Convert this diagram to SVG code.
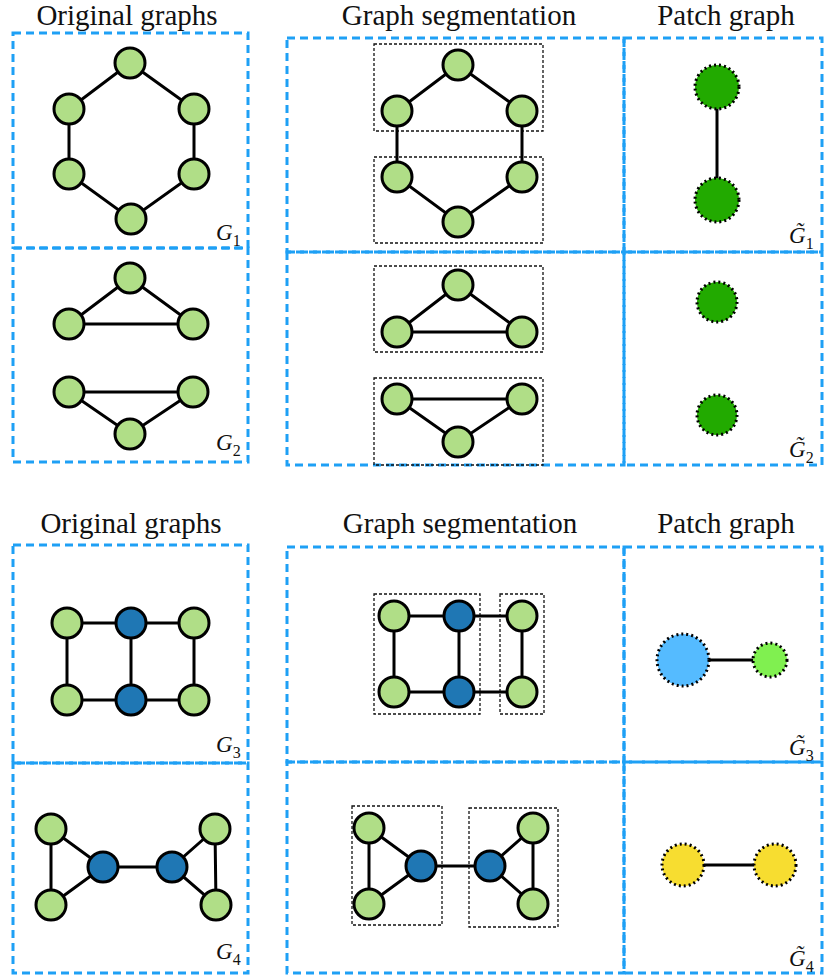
<svg xmlns="http://www.w3.org/2000/svg" width="824" height="978" viewBox="0 0 824 978">
<style>
.title{font-family:"Liberation Serif","Times New Roman",serif;font-size:29px;fill:#111;text-anchor:middle}
.lab{font-family:"Liberation Serif","Times New Roman",serif;font-size:23px;fill:#111;font-style:italic}
.sub{font-family:"Liberation Serif","Times New Roman",serif;font-size:16px;fill:#111;font-style:normal}
.frame{fill:none;stroke:#1ea0f5;stroke-width:3;stroke-dasharray:8 5}
.seg{fill:none;stroke:#111;stroke-width:1.3;stroke-dasharray:3 2}
.e{stroke:#000;stroke-width:3;fill:none}
.g{fill:#b0de87;stroke:#000;stroke-width:3}
.b{fill:#1f77b4;stroke:#000;stroke-width:3}
.p{stroke:#000;stroke-width:3;stroke-dasharray:2 3}
</style>
<g id="titles">
<text class="title" x="127" y="25">Original graphs</text>
<text class="title" x="459" y="25">Graph segmentation</text>
<text class="title" x="726" y="25">Patch graph</text>
<text class="title" x="131" y="533">Original graphs</text>
<text class="title" x="460" y="533">Graph segmentation</text>
<text class="title" x="726" y="533">Patch graph</text>
</g>
<g id="frames">
<rect class="frame" x="13" y="33" width="235" height="215"/>
<rect class="frame" x="13" y="248" width="235" height="214"/>
<rect class="frame" x="287" y="38" width="337" height="214"/>
<rect class="frame" x="287" y="252" width="337" height="213"/>
<rect class="frame" x="624" y="38" width="198" height="214"/>
<rect class="frame" x="624" y="252" width="198" height="213"/>
<rect class="frame" x="13" y="545" width="235" height="218"/>
<rect class="frame" x="13" y="763" width="235" height="210"/>
<rect class="frame" x="287" y="547" width="337" height="215"/>
<rect class="frame" x="287" y="762" width="337" height="211"/>
<rect class="frame" x="624" y="547" width="198" height="215"/>
<rect class="frame" x="624" y="762" width="198" height="211"/>
</g>
<g id="segboxes">
<rect class="seg" x="374" y="44" width="169" height="87"/>
<rect class="seg" x="374" y="157" width="169" height="86"/>
<rect class="seg" x="374" y="266" width="169" height="86"/>
<rect class="seg" x="374" y="378" width="169" height="87"/>
<rect class="seg" x="374" y="594" width="106" height="120"/>
<rect class="seg" x="500" y="594" width="44" height="120"/>
<rect class="seg" x="352" y="806" width="90" height="119"/>
<rect class="seg" x="469" y="808" width="89" height="119"/>
</g>
<g id="connectors">
<polyline class="e" points="130,63 194,109 194,174 131,219 69,174 69,109 130,63"/>
<polyline class="e" points="130,278 193,324 69,324 130,278"/>
<polyline class="e" points="69,392 193,392 130,434 69,392"/>
<polyline class="e" points="458,65 522,111 522,177 458,222 397,177 397,111 458,65"/>
<polyline class="e" points="458,285 522,332 397,332 458,285"/>
<polyline class="e" points="397,399 522,399 458,442 397,399"/>
<line class="e" x1="717" y1="87" x2="717" y2="200"/>
<polyline class="e" points="67,623 194,623 194,700 67,700 67,623"/>
<line class="e" x1="131" y1="623" x2="131" y2="700"/>
<polyline class="e" points="394,616 522,616 522,692 394,692 394,616"/>
<line class="e" x1="459" y1="616" x2="459" y2="692"/>
<line class="e" x1="683" y1="660" x2="770" y2="660"/>
<polyline class="e" points="51,829 103,867 51,905 51,829"/>
<polyline class="e" points="215,829 172,867 216,905 215,829"/>
<line class="e" x1="103" y1="867" x2="172" y2="867"/>
<polyline class="e" points="369,828 421,866 369,904 369,828"/>
<polyline class="e" points="533,828 490,866 533,904 533,828"/>
<line class="e" x1="421" y1="866" x2="490" y2="866"/>
<line class="e" x1="683" y1="865" x2="775" y2="865"/>
</g>
<g id="g1-nodes">
<circle class="g" cx="130" cy="63" r="15"/><circle class="g" cx="69" cy="109" r="15"/><circle class="g" cx="194" cy="109" r="15"/>
<circle class="g" cx="69" cy="174" r="15"/><circle class="g" cx="194" cy="174" r="15"/><circle class="g" cx="131" cy="219" r="15"/>
</g>
<g id="g2-nodes">
<circle class="g" cx="130" cy="278" r="15"/><circle class="g" cx="69" cy="324" r="15"/><circle class="g" cx="193" cy="324" r="15"/>
<circle class="g" cx="69" cy="392" r="15"/><circle class="g" cx="193" cy="392" r="15"/><circle class="g" cx="130" cy="434" r="15"/>
</g>
<g id="seg1-nodes">
<circle class="g" cx="458" cy="65" r="15"/><circle class="g" cx="397" cy="111" r="15"/><circle class="g" cx="522" cy="111" r="15"/>
<circle class="g" cx="397" cy="177" r="15"/><circle class="g" cx="522" cy="177" r="15"/><circle class="g" cx="458" cy="222" r="15"/>
</g>
<g id="seg2-nodes">
<circle class="g" cx="458" cy="285" r="15"/><circle class="g" cx="397" cy="332" r="15"/><circle class="g" cx="522" cy="332" r="15"/>
<circle class="g" cx="397" cy="399" r="15"/><circle class="g" cx="522" cy="399" r="15"/><circle class="g" cx="458" cy="442" r="15"/>
</g>
<g id="patch1-nodes">
<circle class="p" cx="717" cy="87" r="22" fill="#22aa00"/>
<circle class="p" cx="717" cy="200" r="22" fill="#22aa00"/>
</g>
<g id="patch2-nodes">
<circle class="p" cx="717" cy="302" r="20" fill="#22aa00"/>
<circle class="p" cx="717" cy="415" r="20" fill="#22aa00"/>
</g>
<g id="g3-nodes">
<circle class="g" cx="67" cy="623" r="15"/><circle class="b" cx="131" cy="623" r="15"/><circle class="g" cx="194" cy="623" r="15"/>
<circle class="g" cx="67" cy="700" r="15"/><circle class="b" cx="131" cy="700" r="15"/><circle class="g" cx="194" cy="700" r="15"/>
</g>
<g id="seg3-nodes">
<circle class="g" cx="394" cy="616" r="15"/><circle class="b" cx="459" cy="616" r="15"/><circle class="g" cx="522" cy="616" r="15"/>
<circle class="g" cx="394" cy="692" r="15"/><circle class="b" cx="459" cy="692" r="15"/><circle class="g" cx="522" cy="692" r="15"/>
</g>
<g id="patch3-nodes">
<circle class="p" cx="683" cy="660" r="26" fill="#55bbff"/>
<circle class="p" cx="770" cy="660" r="17" fill="#80f050"/>
</g>
<g id="g4-nodes">
<circle class="g" cx="51" cy="829" r="15"/><circle class="g" cx="51" cy="905" r="15"/><circle class="b" cx="103" cy="867" r="15"/>
<circle class="b" cx="172" cy="867" r="15"/><circle class="g" cx="215" cy="829" r="15"/><circle class="g" cx="216" cy="905" r="15"/>
</g>
<g id="seg4-nodes">
<circle class="g" cx="369" cy="828" r="15"/><circle class="g" cx="369" cy="904" r="15"/><circle class="b" cx="421" cy="866" r="15"/>
<circle class="b" cx="490" cy="866" r="15"/><circle class="g" cx="533" cy="828" r="15"/><circle class="g" cx="533" cy="904" r="15"/>
</g>
<g id="patch4-nodes">
<circle class="p" cx="683" cy="865" r="21" fill="#f7dd30"/>
<circle class="p" cx="775" cy="865" r="21" fill="#f7dd30"/>
</g>
<g id="labels">
<text class="lab" x="216" y="240">G<tspan class="sub" dy="6">1</tspan></text>
<text class="lab" x="216" y="450">G<tspan class="sub" dy="6">2</tspan></text>
<text class="lab" x="216" y="752">G<tspan class="sub" dy="6">3</tspan></text>
<text class="lab" x="216" y="959">G<tspan class="sub" dy="6">4</tspan></text>
<text class="lab" x="789" y="243">G&#x303;<tspan class="sub" dy="6">1</tspan></text>
<text class="lab" x="789" y="457">G&#x303;<tspan class="sub" dy="6">2</tspan></text>
<text class="lab" x="789" y="755">G&#x303;<tspan class="sub" dy="6">3</tspan></text>
<text class="lab" x="789" y="966">G&#x303;<tspan class="sub" dy="6">4</tspan></text>
</g>
</svg>
